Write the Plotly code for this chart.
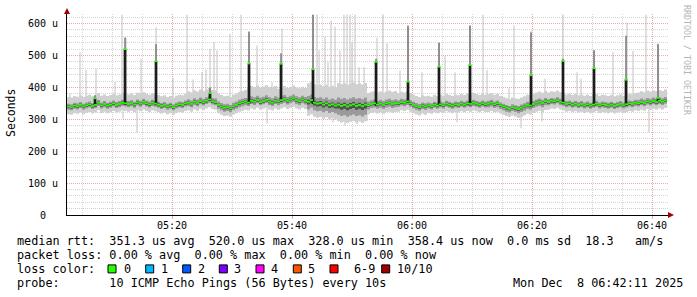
import numpy as np
import pandas as pd
import plotly.graph_objects as go

# ---------------- data ----------------
DAY = "2025-12-08"
START = "05:02:30"          # first 30 s step
STEP_S = 30

# median rtt per 30 s step, microseconds (20 blocks of 5 minutes x 10 steps)
median_us = [
    340, 338, 343, 341, 345, 340, 344, 347, 342, 345,
    352, 344, 348, 343, 346, 350, 345, 348, 352, 350,
    348, 351, 346, 353, 349, 355, 350, 347, 352, 349,
    346, 342, 345, 340, 343, 338, 344, 347, 345, 350,
    352, 348, 355, 351, 357, 353, 358, 362, 356, 354,
    345, 340, 336, 338, 334, 341, 345, 350, 353, 356,
    352, 358, 355, 360, 354, 357, 361, 355, 352, 358,
    356, 360, 364, 358, 362, 366, 360, 357, 362, 358,
    355, 360, 352, 349, 351, 346, 350, 344, 347, 343,
    346, 342, 345, 340, 344, 347, 342, 345, 341, 346,
    344, 348, 350, 346, 349, 345, 350, 352, 348, 351,
    350, 354, 352, 356, 350, 345, 341, 338, 343, 340,
    344, 341, 346, 343, 347, 344, 349, 346, 343, 347,
    345, 349, 346, 350, 348, 352, 349, 346, 350, 347,
    349, 352, 347, 350, 344, 340, 336, 333, 338, 335,
    332, 336, 340, 345, 343, 348, 352, 355, 351, 357,
    354, 358, 356, 360, 355, 352, 348, 350, 346, 349,
    345, 348, 344, 347, 343, 346, 349, 344, 347, 345,
    343, 346, 342, 345, 348, 344, 347, 350, 348, 352,
    350, 354, 351, 356, 353, 357, 354, 358, 355, 359,
]

# smoke spread around the median per 5-minute block (us)
outer_below = [24, 24, 24, 24, 24, 26, 24, 26, 44, 52, 28, 26, 24, 24, 26, 28, 24, 24, 24, 24]
outer_above = [30, 30, 30, 30, 36, 36, 46, 40, 58, 68, 38, 32, 30, 30, 30, 32, 30, 30, 30, 34]
mid_below   = [10, 10, 10, 10, 10, 12, 10, 12, 24, 32, 13, 11, 10, 10, 12, 13, 10, 10, 10, 10]
mid_above   = [9, 9, 9, 9, 11, 11, 14, 12, 18, 22, 12, 10, 9, 9, 9, 10, 9, 9, 9, 11]
core_below  = [5, 5, 5, 5, 5, 5, 5, 5, 9, 12, 5, 5, 5, 5, 5, 5, 5, 5, 5, 5]
core_above  = [4, 4, 4, 4, 4, 4, 5, 4, 6, 7, 4, 4, 4, 4, 4, 4, 4, 4, 4, 4]

# single high pings (light smoke spikes): time, top (us)
spike_up_time = [
    "05:03:00", "05:04:40", "05:05:40", "05:07:20", "05:10:30", "05:11:40", "05:12:20",
    "05:14:50", "05:17:20", "05:20:10", "05:22:30", "05:23:30", "05:25:00", "05:25:40",
    "05:26:20", "05:27:00", "05:27:30", "05:29:40", "05:31:30", "05:32:50", "05:34:10",
    "05:36:40", "05:38:20", "05:43:30", "05:44:10", "05:44:30", "05:45:30", "05:46:00",
    "05:46:30", "05:47:10", "05:48:00", "05:48:40", "05:49:10", "05:49:40", "05:50:00",
    "05:50:30", "05:51:10", "05:52:00", "05:54:10", "05:55:10", "05:55:50", "05:58:00",
    "05:59:20", "06:01:40", "06:04:30", "06:05:30", "06:07:10", "06:09:40", "06:11:50",
    "06:12:30", "06:16:10", "06:17:00", "06:19:50", "06:22:10", "06:25:10", "06:27:30",
    "06:28:10", "06:30:20", "06:33:30", "06:35:50", "06:36:50", "06:39:00", "06:41:00",
]
spike_up_top = [
    381, 510, 455, 459, 417, 628, 556,
    490, 588, 430, 628, 425, 448, 456,
    521, 541, 516, 568, 628, 572, 531,
    416, 584, 628, 628, 516, 560, 480,
    609, 590, 516, 628, 628, 628, 540,
    628, 463, 464, 556, 628, 538, 453,
    588, 447, 541, 500, 447, 594, 628,
    454, 397, 594, 578, 427, 628, 447,
    427, 516, 510, 603, 515, 628, 538,
]

# single low pings: time, bottom (us)
spike_down_time = ["05:11:50", "05:14:10", "05:35:50", "05:46:50", "05:48:50", "05:50:50",
                   "05:52:30", "06:07:30", "06:18:10", "06:21:40", "06:39:30"]
spike_down_bottom = [302, 258, 287, 290, 280, 285, 295, 290, 272, 293, 259]

# steps where the median jumped: time, median (us), top of dark smoke (us)
jump_time = ["05:07:10", "05:12:10", "05:17:20", "05:26:20", "05:32:50", "05:38:10",
             "05:43:30", "05:54:00", "05:59:20", "06:04:30", "06:09:40", "06:19:50",
             "06:25:10", "06:30:20", "06:35:40", "06:41:00"]
jump_median = [366, 520, 482, 382, 475, 474, 457, 480, 418, 465, 470, 438, 483, 460, 424, 367]
jump_dark_top = [375, 556, 535, 400, 575, 507, 628, 490, 594, 540, 594, 572, 490, 516, 562, 535]

y_tick_vals = [0, 100, 200, 300, 400, 500, 600]
y_tick_text = ["0  ", "100 u", "200 u", "300 u", "400 u", "500 u", "600 u"]

loss_labels = ["0", "1", "2", "3", "4", "5", "6-9", "10/10"]
loss_colors = ["#26ff00", "#00b8ff", "#0059ff", "#7e00ff", "#ff00ff", "#ff5500", "#ff0000", "#a00000"]

line_rtt = "median rtt:  351.3 us avg  520.0 us max  328.0 us min  358.4 us now  0.0 ms sd  18.3   am/s"
line_loss = "packet loss: 0.00 % avg  0.00 % max  0.00 % min  0.00 % now"
line_color = "loss color:"
line_probe = "probe:       10 ICMP Echo Pings (56 Bytes) every 10s"
line_date = "Mon Dec  8 06:42:11 2025"
y_title = "Seconds"
watermark = "RRDTOOL / TOBI OETIKER"

# ---------------- build ----------------
t0 = pd.Timestamp(f"{DAY} {START}")
n = len(median_us)
step = pd.Timedelta(seconds=STEP_S)
times = [t0 + i * step for i in range(n)]
times_ext = times + [times[-1] + step]
med = np.array(median_us, dtype=float)
seg = np.arange(n) // 10


def ext(a):
    a = list(a)
    return a + [a[-1]]


def ts(s):
    return pd.Timestamp(f"{DAY} {s}")


def idx_of(t):
    return int(min(n - 1, max(0, (t - t0).total_seconds() // STEP_S)))


fig = go.Figure()
mono = "DejaVu Sans Mono"

# light single-ping spikes
sx, sy = [], []
for t, top in zip(spike_up_time, spike_up_top):
    tt = ts(t)
    sx += [tt, tt, None]
    sy += [med[idx_of(tt)] + 5, top, None]
for t, bot in zip(spike_down_time, spike_down_bottom):
    tt = ts(t)
    sx += [tt, tt, None]
    sy += [med[idx_of(tt)] - 5, bot, None]
fig.add_trace(go.Scatter(x=sx, y=sy, mode="lines", line=dict(color="#c0c0c0", width=1),
                         hoverinfo="skip", showlegend=False))

# smoke bands
bands = [
    (outer_below, outer_above, "#d0d0d0"),
    (mid_below, mid_above, "#9a9a9a"),
    (core_below, core_above, "#505050"),
]
for below, above, col in bands:
    lo = med - np.array(below)[seg]
    hi = med + np.array(above)[seg]
    fig.add_trace(go.Scatter(x=times_ext, y=ext(lo), mode="lines", line=dict(width=0, shape="hv"),
                             hoverinfo="skip", showlegend=False))
    fig.add_trace(go.Scatter(x=times_ext, y=ext(hi), mode="lines", line=dict(width=0, shape="hv"),
                             fill="tonexty", fillcolor=col, hoverinfo="skip", showlegend=False))

# jumps: black inner smoke + dark extension
bx, by, dx, dy = [], [], [], []
for t, m, top in zip(jump_time, jump_median, jump_dark_top):
    tt = ts(t)
    bx += [tt, tt, None]
    by += [med[idx_of(tt)] - 4, m, None]
    dx += [tt, tt, None]
    dy += [m, top, None]
fig.add_trace(go.Scatter(x=dx, y=dy, mode="lines", line=dict(color="#5a5a5a", width=1.2),
                         hoverinfo="skip", showlegend=False))
fig.add_trace(go.Scatter(x=bx, y=by, mode="lines", line=dict(color="#1c1c1c", width=2.7),
                         hoverinfo="skip", showlegend=False))

# median dashes (loss colour 0)
gx, gy = [], []
for i in range(n):
    gx += [times[i], times[i] + step, None]
    gy += [med[i], med[i], None]
half = pd.Timedelta(seconds=15)
for t, m in zip(jump_time, jump_median):
    tt = ts(t)
    gx += [tt - half, tt + half, None]
    gy += [m, m, None]
fig.add_trace(go.Scatter(x=gx, y=gy, mode="lines", line=dict(color=loss_colors[0], width=1.8),
                         hoverinfo="skip", showlegend=False))

# ---------------- layout ----------------
PL, PR, PT, PB = 67, 668, 14, 215
W, H = PR - PL, PB - PT


def px(x):
    return (x - PL) / W


def py(y):
    return (PB - y) / H


grid_major = "#e8abab"
grid_minor = "#d4d4d4"

fig.update_layout(
    width=697, height=297,
    margin=dict(l=PL, r=697 - PR, t=PT, b=297 - PB),
    paper_bgcolor="white", plot_bgcolor="white",
    showlegend=False,
    font=dict(family=mono, size=10, color="black"),
    xaxis=dict(
        type="date",
        range=[f"{DAY} 05:02:30", f"{DAY} 06:42:40"],
        tick0=f"{DAY} 05:00:00", dtick=20 * 60 * 1000, tickformat="%H:%M",
        showgrid=True, gridcolor=grid_major, griddash="1px,1px", gridwidth=1,
        minor=dict(dtick=5 * 60 * 1000, showgrid=True, gridcolor=grid_minor, griddash="1px,1px",
                   ticks=""),
        ticks="outside", ticklen=3, tickcolor=grid_major, ticklabelstandoff=-2,
        showline=True, linecolor="black", linewidth=1,
        zeroline=False, fixedrange=True,
        tickfont=dict(family=mono, size=10, color="black"),
    ),
    yaxis=dict(
        range=[0, 630],
        tickvals=y_tick_vals, ticktext=[s.replace(" ", "\u00a0") for s in y_tick_text],
        showgrid=True, gridcolor=grid_major, griddash="1px,1px", gridwidth=1,
        minor=dict(dtick=20, showgrid=True, gridcolor=grid_minor, griddash="1px,1px"),
        ticks="", ticklabelstandoff=6,
        showline=True, linecolor="black", linewidth=1,
        zeroline=False, fixedrange=True,
        tickfont=dict(family=mono, size=10, color="black"),
    ),
)

shapes = [
    dict(type="path", xref="paper", yref="paper",
         path=f"M {px(64)},{py(14)} L {px(70)},{py(14)} L {px(67)},{py(8)} Z",
         fillcolor="#a00000", line=dict(width=0)),
    dict(type="path", xref="paper", yref="paper",
         path=f"M {px(668)},{py(212)} L {px(668)},{py(218)} L {px(674)},{py(215)} Z",
         fillcolor="#a00000", line=dict(width=0)),
]

annos = []
nb = lambda s: s.replace(" ", "\u00a0")
LEG_SIZE = 11.8
rows_y = [241.3, 255.3, 268.9, 283.0]
for txt, yy in [(line_rtt, rows_y[0]), (line_loss, rows_y[1]), (line_color, rows_y[2]),
                (line_probe, rows_y[3])]:
    annos.append(dict(text=nb(txt), xref="paper", yref="paper", x=px(16), y=py(yy),
                      xanchor="left", yanchor="middle", showarrow=False, borderpad=0,
                      font=dict(family=mono, size=LEG_SIZE, color="black")))
annos.append(dict(text=nb(line_date), xref="paper", yref="paper", x=px(512.3), y=py(rows_y[3]),
                  xanchor="left", yanchor="middle", showarrow=False, borderpad=0,
                  font=dict(family=mono, size=LEG_SIZE, color="black")))

box_x = [108, 145.7, 182.7, 219.3, 256, 293.3, 330, 381.7]
lab_x = [123.3, 160, 196.7, 233.3, 270, 307.3, 353.3, 396]
for bxp, lxp, lab, col in zip(box_x, lab_x, loss_labels, loss_colors):
    shapes.append(dict(type="rect", xref="paper", yref="paper",
                       x0=px(bxp), x1=px(bxp + 8), y0=py(rows_y[2] + 4), y1=py(rows_y[2] - 4),
                       fillcolor=col, line=dict(color="black", width=1)))
    annos.append(dict(text=nb(lab), xref="paper", yref="paper", x=px(lxp), y=py(rows_y[2]),
                      xanchor="left", yanchor="middle", showarrow=False, borderpad=0,
                      font=dict(family=mono, size=LEG_SIZE, color="black")))

annos.append(dict(text=y_title, xref="paper", yref="paper", x=px(11), y=py(113),
                  xanchor="center", yanchor="middle", textangle=-90, showarrow=False,
                  font=dict(family=mono, size=11.5, color="black")))
annos.append(dict(text=nb(watermark), xref="paper", yref="paper", x=px(687), y=py(60),
                  xanchor="center", yanchor="middle", textangle=90, showarrow=False,
                  font=dict(family=mono, size=8.3, color="#b4b4b4")))

fig.update_layout(shapes=shapes, annotations=annos)
fig.write_html("out.html")
